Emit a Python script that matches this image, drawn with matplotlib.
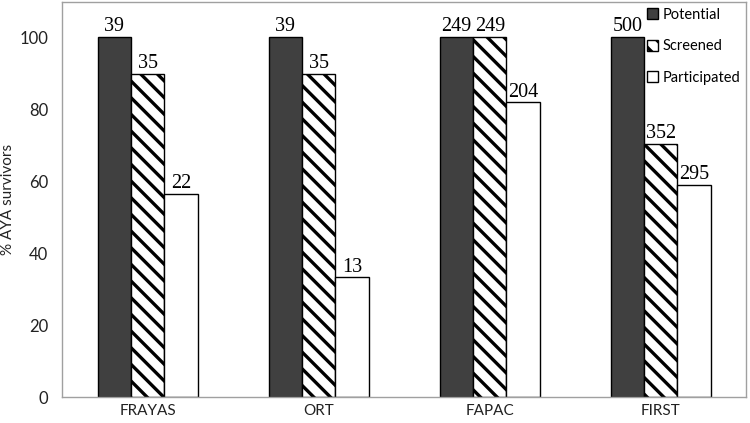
import numpy as np
import matplotlib
matplotlib.use("Agg")
import matplotlib.pyplot as plt

# data
studies = ["FRAYAS", "ORT", "FAPAC", "FIRST"]
potential = [100, 100, 100, 100]
screened = [89.7, 89.7, 100, 70.4]
participated = [56.4, 33.3, 81.9, 59.0]
potential_n = [39, 39, 249, 500]
screened_n = [35, 35, 249, 352]
participated_n = [22, 13, 204, 295]

plt.rcParams["font.family"] = ["Lato", "DejaVu Sans"]
plt.rcParams["hatch.linewidth"] = 2.4

fig = plt.figure(figsize=(7.5, 4.23), dpi=100)
ax = fig.add_axes([0.083, 0.061, 0.912, 0.934])

x = np.arange(len(studies))
w = 0.195

b1 = ax.bar(x - w, potential, w, color="#404040", edgecolor="black", linewidth=1, label="Potential")
b2 = ax.bar(x, screened, w, color="white", edgecolor="black", linewidth=1, hatch=r"\\", label="Screened")
b3 = ax.bar(x + w, participated, w, color="white", edgecolor="black", linewidth=1, label="Participated")

for bars, ns in [(b1, potential_n), (b2, screened_n), (b3, participated_n)]:
    for bar, n in zip(bars, ns):
        ax.text(bar.get_x() + bar.get_width() / 2, bar.get_height() + 0.2, str(n),
                ha="center", va="bottom", fontsize=14.5, family="Liberation Serif", color="black")

ax.set_xlim(-0.5, 3.5)
ax.set_ylim(0, 109.7)
ax.set_yticks([0, 20, 40, 60, 80, 100])
ax.set_xticks(x)
ax.set_xticklabels(studies, fontsize=11, color="#222222")
ax.tick_params(axis="y", length=0, labelsize=12, labelcolor="#222222", pad=10)
ax.tick_params(axis="x", length=0, pad=5)
ax.set_ylabel("% AYA survivors", fontsize=11, color="#222222", labelpad=3)

for s in ax.spines.values():
    s.set_color("#a0a0a0")
    s.set_linewidth(1)

leg = ax.legend(loc="upper right", frameon=False, fontsize=10.5, handlelength=0.8, handleheight=0.8,
                handletextpad=0.3, labelspacing=1.2, borderaxespad=0.0, bbox_to_anchor=(1.0, 1.0))

fig.savefig("out.png", dpi=100)
